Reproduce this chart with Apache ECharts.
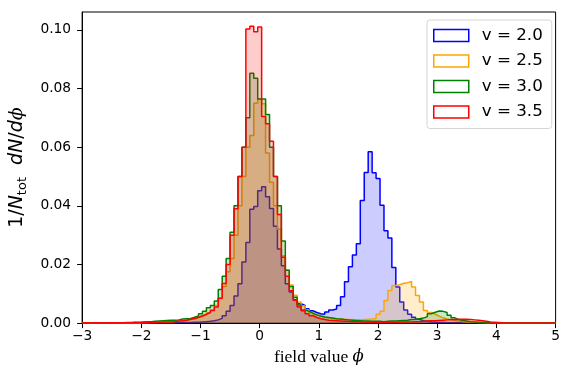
<!DOCTYPE html>
<html>
<head>
<meta charset="utf-8">
<script src="https://cdn.jsdelivr.net/npm/echarts@6/dist/echarts.min.js"></script>
<style>
  html, body { margin: 0; padding: 0; background: #fff; }
  #chart { width: 563px; height: 371px; }
</style>
</head>
<body>
<div id="chart"></div>
<script>
// histogram bins: left edge of bin 0 and the common bin width
const binStart = -2.9667;
const binWidth = 1 / 15;

const xTicks = [-3, -2, -1, 0, 1, 2, 3, 4, 5];
const yTicks = [0, 0.02, 0.04, 0.06, 0.08, 0.1];

const seriesNames = ["v = 2.0", "v = 2.5", "v = 3.0", "v = 3.5"];
const seriesColors = ["#0000ff", "#ffa500", "#008000", "#ff0000"];

// v = 2.0, first bin index 22
const blueFirst = 22;
const blueValues = [
  0.0001, 0.0001, 0.0002, 0.0002, 0.0002, 0.0003, 0.0003, 0.0004, 0.0005, 0.0006,
  0.0008, 0.0011, 0.0016, 0.0025, 0.0040, 0.0060, 0.0092, 0.0134, 0.0208, 0.0275,
  0.0388, 0.0398, 0.0451, 0.0465, 0.0431, 0.0391, 0.0330, 0.0253, 0.0196, 0.0134,
  0.0106, 0.0080, 0.0066, 0.0060, 0.0049, 0.0042, 0.0036, 0.0032, 0.0030, 0.0038,
  0.0045, 0.0048, 0.0060, 0.0090, 0.0141, 0.0192, 0.0232, 0.0271, 0.0418, 0.0514,
  0.0584, 0.0513, 0.0493, 0.0402, 0.0315, 0.0290, 0.0190, 0.0123, 0.0072, 0.0045,
  0.0030, 0.0020, 0.0013, 0.0008, 0.0006, 0.0004, 0.0003, 0.0002, 0.0002, 0.0001,
  0.0001
];

// v = 2.5, first bin index 14
const orangeFirst = 14;
const orangeValues = [
  0.0001, 0.0001, 0.0002, 0.0002, 0.0003, 0.0003, 0.0004, 0.0005, 0.0006, 0.0007,
  0.0008, 0.0010, 0.0012, 0.0014, 0.0018, 0.0022, 0.0028, 0.0035, 0.0045, 0.0060,
  0.0085, 0.0125, 0.0175, 0.0220, 0.0300, 0.0400, 0.0500, 0.0600, 0.0640, 0.0750,
  0.0764, 0.0748, 0.0580, 0.0480, 0.0400, 0.0320, 0.0230, 0.0180, 0.0130, 0.0095,
  0.0072, 0.0058, 0.0045, 0.0035, 0.0028, 0.0024, 0.0020, 0.0018, 0.0016, 0.0015,
  0.0014, 0.0013, 0.0012, 0.0012, 0.0011, 0.0011, 0.0012, 0.0013, 0.0014, 0.0016,
  0.0030, 0.0040, 0.0077, 0.0111, 0.0128, 0.0131, 0.0136, 0.0138, 0.0142, 0.0123,
  0.0094, 0.0072, 0.0043, 0.0036, 0.0030, 0.0024, 0.0018, 0.0014, 0.0011, 0.0009,
  0.0007, 0.0005, 0.0004, 0.0003, 0.0003, 0.0002, 0.0002, 0.0001, 0.0001
];

// v = 3.0, first bin index 7
const greenFirst = 7;
const greenValues = [
  0.0001, 0.0001, 0.0001, 0.0002, 0.0002, 0.0003, 0.0003, 0.0004, 0.0005, 0.0005,
  0.0006, 0.0007, 0.0008, 0.0009, 0.0010, 0.0010, 0.0011, 0.0014, 0.0015, 0.0016,
  0.0020, 0.0024, 0.0032, 0.0040, 0.0052, 0.0060, 0.0075, 0.0115, 0.0160, 0.0220,
  0.0310, 0.0400, 0.0500, 0.0600, 0.0700, 0.0852, 0.0835, 0.0764, 0.0764, 0.0711,
  0.0600, 0.0500, 0.0400, 0.0280, 0.0180, 0.0125, 0.0088, 0.0062, 0.0045, 0.0040,
  0.0034, 0.0028, 0.0024, 0.0021, 0.0019, 0.0017, 0.0015, 0.0014, 0.0012, 0.0011,
  0.0010, 0.0009, 0.0008, 0.0007, 0.0007, 0.0006, 0.0006, 0.0006, 0.0005, 0.0006,
  0.0007, 0.0007, 0.0008, 0.0009, 0.0010, 0.0012, 0.0013, 0.0015, 0.0017, 0.0022,
  0.0032, 0.0037, 0.0041, 0.0040, 0.0036, 0.0027, 0.0018, 0.0012, 0.0009, 0.0007,
  0.0005, 0.0004, 0.0003, 0.0002, 0.0002, 0.0001
];

// v = 3.5, first bin index 0
const redFirst = 0;
const redValues = [
  0.0001, 0.0000, 0.0001, 0.0001, 0.0000, 0.0001, 0.0001, 0.0001, 0.0001, 0.0001,
  0.0001, 0.0001, 0.0002, 0.0001, 0.0002, 0.0002, 0.0002, 0.0002, 0.0003, 0.0003,
  0.0004, 0.0004, 0.0005, 0.0007, 0.0008, 0.0010, 0.0013, 0.0016, 0.0020, 0.0025,
  0.0030, 0.0036, 0.0043, 0.0055, 0.0085, 0.0135, 0.0200, 0.0300, 0.0390, 0.0500,
  0.0600, 0.1003, 0.1012, 0.0994, 0.1010, 0.0705, 0.0680, 0.0620, 0.0500, 0.0370,
  0.0225, 0.0160, 0.0110, 0.0078, 0.0055, 0.0042, 0.0032, 0.0025, 0.0019, 0.0015,
  0.0012, 0.0010, 0.0009, 0.0008, 0.0007, 0.0006, 0.0006, 0.0005, 0.0005, 0.0004,
  0.0004, 0.0003, 0.0003, 0.0003, 0.0003, 0.0003, 0.0003, 0.0003, 0.0003, 0.0003,
  0.0004, 0.0004, 0.0004, 0.0005, 0.0005, 0.0006, 0.0007, 0.0008, 0.0008, 0.0009,
  0.0010, 0.0011, 0.0012, 0.0012, 0.0013, 0.0013, 0.0013, 0.0012, 0.0011, 0.0010,
  0.0008, 0.0006, 0.0004, 0.0003, 0.0002, 0.0001
];

const histograms = [
  [blueFirst, blueValues],
  [orangeFirst, orangeValues],
  [greenFirst, greenValues],
  [redFirst, redValues],
];

// turn bin values into points for a step line (step at the end of each bin)
function stepPoints(first, values) {
  const x0 = binStart + first * binWidth;
  const pts = [[xTicks[0], 0], [x0, 0]];
  values.forEach((v, i) => pts.push([binStart + (first + i) * binWidth, v]));
  const xEnd = binStart + (first + values.length) * binWidth;
  pts.push([xEnd, values[values.length - 1]], [xEnd, 0], [xTicks[xTicks.length - 1], 0]);
  return pts;
}

const chart = echarts.init(document.getElementById("chart"), null, { renderer: "canvas" });

const axisColor = "#000";
const tickFont = { fontFamily: "DejaVu Sans", fontSize: 13.8, color: "#000" };

chart.setOption({
  animation: false,
  grid: {
    left: 79,
    right: 4,
    top: 12,
    bottom: 46,
    show: true,
    borderColor: axisColor,
    borderWidth: 1,
    backgroundColor: "transparent",
  },
  legend: {
    orient: "vertical",
    left: 427,
    top: 20,
    icon: "rect",
    itemWidth: 35,
    itemHeight: 12,
    itemGap: 8.5,
    padding: [7, 9, 8, 6],
    backgroundColor: "rgba(255,255,255,0.8)",
    borderColor: "#d4d4d4",
    borderWidth: 1,
    borderRadius: 3,
    z: 20,
    textStyle: {
      fontFamily: "DejaVu Sans",
      fontSize: 16.7,
      color: "#000",
      lineHeight: 14,
      padding: [0, 0, 0, 8],
    },
    data: seriesNames.map((name, i) => ({
      name,
      itemStyle: { color: "#fff", borderColor: seriesColors[i], borderWidth: 1.5 },
    })),
  },
  xAxis: {
    type: "value",
    min: xTicks[0],
    max: xTicks[xTicks.length - 1],
    interval: 1,
    name: "{t|field value }{i|ϕ}",
    nameLocation: "middle",
    nameGap: 23,
    nameTextStyle: {
      rich: {
        t: { fontFamily: "Liberation Serif", fontSize: 17.5, color: "#000" },
        i: { fontFamily: "DejaVu Serif", fontStyle: "italic", fontSize: 16.5, color: "#000" },
      },
    },
    axisLine: { show: true, onZero: false, lineStyle: { color: axisColor, width: 1 } },
    axisTick: { show: true, inside: false, length: 5, lineStyle: { color: axisColor, width: 1 } },
    splitLine: { show: false },
    axisLabel: {
      ...tickFont,
      margin: 6,
      formatter: (v) => String(v).replace("-", "\u2212"),
    },
  },
  yAxis: {
    type: "value",
    min: 0,
    max: 0.1061,
    name: "{a|1/}{i|N}{s|tot}{a|  }{i|dN}{a|/}{i|d}{p|ϕ}",
    nameLocation: "middle",
    nameGap: 40,
    nameRotate: 90,
    nameTextStyle: {
      padding: [0, 0, 0, 0],
      rich: {
        a: { fontFamily: "DejaVu Sans", fontSize: 19, color: "#000", lineHeight: 24 },
        i: { fontFamily: "DejaVu Sans", fontStyle: "italic", fontSize: 19, color: "#000", lineHeight: 24 },
        p: { fontFamily: "DejaVu Serif", fontStyle: "italic", fontSize: 19, color: "#000", lineHeight: 24 },
        s: { fontFamily: "DejaVu Sans", fontSize: 13, color: "#000", lineHeight: 13, verticalAlign: "bottom" },
      },
    },
    axisLine: { show: true, onZero: false, lineStyle: { color: axisColor, width: 1 } },
    axisTick: { show: true, inside: false, length: 5, customValues: yTicks, lineStyle: { color: axisColor, width: 1 } },
    splitLine: { show: false },
    axisLabel: {
      ...tickFont,
      margin: 11,
      customValues: yTicks,
      formatter: (v) => v.toFixed(2),
    },
  },
  // each series gets its own z so its fill covers the earlier series' lines
  series: histograms.map(([first, values], i) => ({
    name: seriesNames[i],
    type: "line",
    step: "end",
    z: 2 + i,
    symbol: "none",
    showSymbol: false,
    silent: true,
    clip: true,
    color: seriesColors[i],
    lineStyle: { color: seriesColors[i], width: 1.5 },
    areaStyle: { color: seriesColors[i], opacity: 0.2 },
    data: stepPoints(first, values),
  })),
});
</script>
</body>
</html>
